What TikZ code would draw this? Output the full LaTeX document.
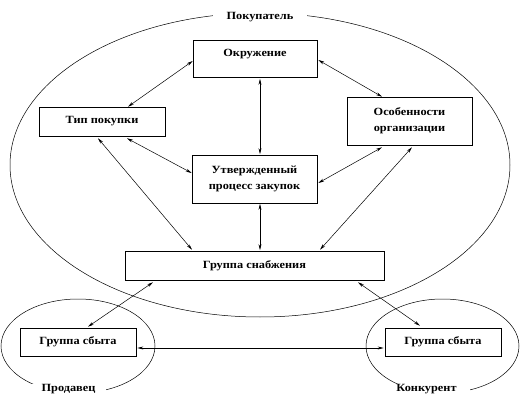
\documentclass[tikz,border=0pt]{standalone}
\usepackage{fontspec}
\setmainfont{Liberation Serif}[FakeStretch=1.12]
\usetikzlibrary{arrows.meta,calc,shapes.geometric}
\tikzset{
  box/.style={draw,fill=white,line width=0.6pt,inner sep=0pt,align=center,
    font=\fontsize{11}{16}\selectfont\bfseries},
  oval/.style={draw,ellipse,line width=0.5pt,inner sep=0pt},
  lbl/.style={fill=white,inner sep=0pt,minimum height=11pt,font=\fontsize{11}{13}\selectfont\bfseries},
  link/.style={line width=0.5pt,{Stealth[length=6pt,width=3pt]}-{Stealth[length=6pt,width=3pt]}}
}
\begin{document}
\begin{tikzpicture}[x=1pt,y=-1pt]
\useasboundingbox (0,0) rectangle (520,417);
% ellipses
\node[oval,minimum width=500,minimum height=304] (buyer) at (260,165) {};
\node[oval,minimum width=154,minimum height=94] (seller) at (78,346) {};
\node[oval,minimum width=153,minimum height=94] (rival) at (442.5,346) {};
\node[lbl,minimum width=94] (lbuyer) at (260,17) {Покупатель};
\node[lbl,minimum width=75] (lseller) at (68.5,389) {Продавец};
\node[lbl,minimum width=87] (lrival) at (426.5,389) {Конкурент};
% boxes
\node[box,minimum width=124,minimum height=37,text depth=12pt] (okr) at (255,58.5) {Окружение};
\node[box,minimum width=126,minimum height=29] (tip) at (102,121.5) {Тип покупки};
\node[box,minimum width=125,minimum height=48] (osob) at (409.5,121) {Особенности\\организации};
\node[box,minimum width=125,minimum height=48] (utv) at (254.5,179) {Утвержденный\\процесс закупок};
\node[box,minimum width=259,minimum height=29] (grs) at (254.5,265.5) {Группа снабжения};
\node[box,minimum width=116,minimum height=28] (sb1) at (78,342) {Группа сбыта};
\node[box,minimum width=116,minimum height=28] (sb2) at (443,342) {Группа сбыта};
% connectors
\draw[link] ($(okr.west)+(0,2.5)$) -- ($(tip.north)+(26,0)$);
\draw[link] ($(okr.east)+(1,1.5)$) -- ($(osob.north)+(-27.5,0)$);
\draw[link] ($(okr.south)+(5,1.5)$) -- ($(utv.north)+(5.5,-0.5)$);
\draw[link] ($(tip.south)+(25,2)$) -- ($(utv.west)+(0,-6)$);
\draw[link] ($(tip.south)+(-4,2)$) -- ($(grs.north)+(-62.5,-1)$);
\draw[link] ($(osob.south)+(-27.5,2)$) -- ($(utv.east)+(1,4)$);
\draw[link] ($(osob.south)+(2.5,2)$) -- ($(grs.north)+(65.5,-1)$);
\draw[link] ($(utv.south)+(5.5,0.5)$) -- ($(grs.north)+(5.5,-0.5)$);
\draw[link] ($(grs.south)+(-101.5,2)$) -- ($(sb1.north)+(10,-1)$);
\draw[link] ($(grs.south)+(103.5,2)$) -- ($(sb2.north)+(-23,-2)$);
\draw[link] ($(sb1.east)+(1,6)$) -- ($(sb2.west)+(-1,6)$);
\end{tikzpicture}
\end{document}
